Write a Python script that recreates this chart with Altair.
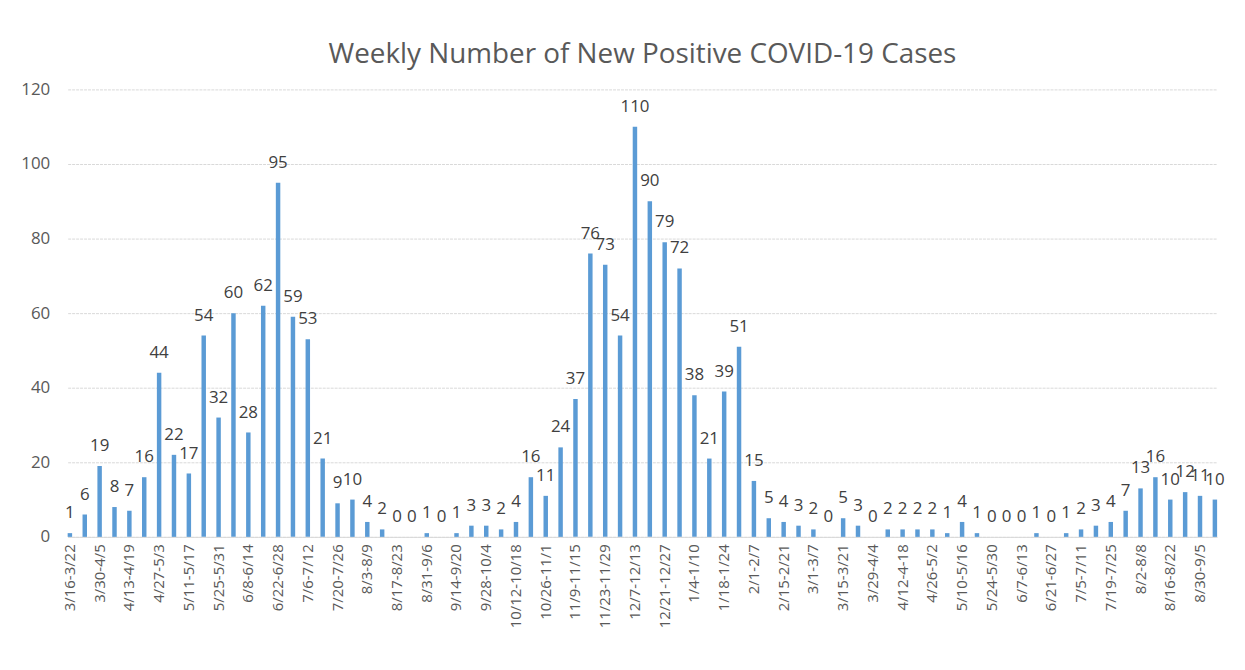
import altair as alt
import pandas as pd

weeks = [
    "3/16-3/22", "3/23-3/29", "3/30-4/5", "4/6-4/12", "4/13-4/19", "4/20-4/26",
    "4/27-5/3", "5/4-5/10", "5/11-5/17", "5/18-5/24", "5/25-5/31", "6/1-6/7",
    "6/8-6/14", "6/15-6/21", "6/22-6/28", "6/29-7/5", "7/6-7/12", "7/13-7/19",
    "7/20-7/26", "7/27-8/2", "8/3-8/9", "8/10-8/16", "8/17-8/23", "8/24-8/30",
    "8/31-9/6", "9/7-9/13", "9/14-9/20", "9/21-9/27", "9/28-10/4", "10/5-10/11",
    "10/12-10/18", "10/19-10/25", "10/26-11/1", "11/2-11/8", "11/9-11/15",
    "11/16-11/22", "11/23-11/29", "11/30-12/6", "12/7-12/13", "12/14-12/20",
    "12/21-12/27", "12/28-1/3", "1/4-1/10", "1/11-1/17", "1/18-1/24", "1/25-1/31",
    "2/1-2/7", "2/8-2/14", "2/15-2/21", "2/22-2/28", "3/1-3/7", "3/8-3/14",
    "3/15-3/21", "3/22-3/28", "3/29-4/4", "4/5-4/11", "4/12-4-18", "4/19-4/25",
    "4/26-5/2", "5/3-5/9", "5/10-5/16", "5/17-5/23", "5/24-5/30", "5/31-6/6",
    "6/7-6/13", "6/14-6/20", "6/21-6/27", "6/28-7/4", "7/5-7/11", "7/12-7/18",
    "7/19-7/25", "7/26-8/1", "8/2-8/8", "8/9-8/15", "8/16-8/22", "8/23-8/29",
    "8/30-9/5", "9/6-9/12",
]

cases = [
    1, 6, 19, 8, 7, 16, 44, 22, 17, 54, 32, 60, 28, 62, 95, 59, 53, 21, 9, 10,
    4, 2, 0, 0, 1, 0, 1, 3, 3, 2, 4, 16, 11, 24, 37, 76, 73, 54, 110, 90,
    79, 72, 38, 21, 39, 51, 15, 5, 4, 3, 2, 0, 5, 3, 0, 2, 2, 2, 2, 1,
    4, 1, 0, 0, 0, 1, 0, 1, 2, 3, 4, 7, 13, 16, 10, 12, 11, 10,
]

shown_labels = weeks[::2]
y_ticks = [0, 20, 40, 60, 80, 100, 120]

df = pd.DataFrame({"week": weeks, "cases": cases})

FONT = "Open Sans"
TXT = "#595959"

x_enc = alt.X(
    "week:N",
    sort=weeks,
    title=None,
    scale=alt.Scale(paddingInner=0.7, paddingOuter=0),
    axis=alt.Axis(
        values=shown_labels,
        labelAngle=270,
        labelFontSize=15,
        labelColor=TXT,
        labelFont=FONT,
        ticks=False,
        domainColor="#d9d9d9",
        labelPadding=7,
    ),
)

y_enc = alt.Y(
    "cases:Q",
    title=None,
    scale=alt.Scale(domain=[0, 120]),
    axis=alt.Axis(
        values=y_ticks,
        labelFontSize=17,
        labelColor=TXT,
        labelFont=FONT,
        ticks=False,
        domain=False,
        gridColor="#d9d9d9",
        gridDash=[3, 1],
        labelPadding=18,
    ),
)

bars = alt.Chart(df).mark_bar(color="#5B9BD5").encode(x=x_enc, y=y_enc)

labels = alt.Chart(df).mark_text(
    baseline="alphabetic", dy=-15, fontSize=17, font=FONT, color="#404040"
).encode(x=alt.X("week:N", sort=weeks), y="cases:Q", text="cases:Q")

chart = (
    alt.layer(bars, labels)
    .properties(
        width=1156,
        height=450,
        autosize=alt.AutoSizeParams(type="none"),
        padding={"left": 60, "top": 80, "right": 20, "bottom": 130},
        title=alt.TitleParams(
            "Weekly Number of New Positive COVID-19 Cases",
            fontSize=28,
            font=FONT,
            fontWeight="normal",
            color=TXT,
            offset=12,
        ),
    )
    .configure_view(stroke=None)
)

chart.save("out.html", embed_options={"renderer": "svg", "actions": False})
